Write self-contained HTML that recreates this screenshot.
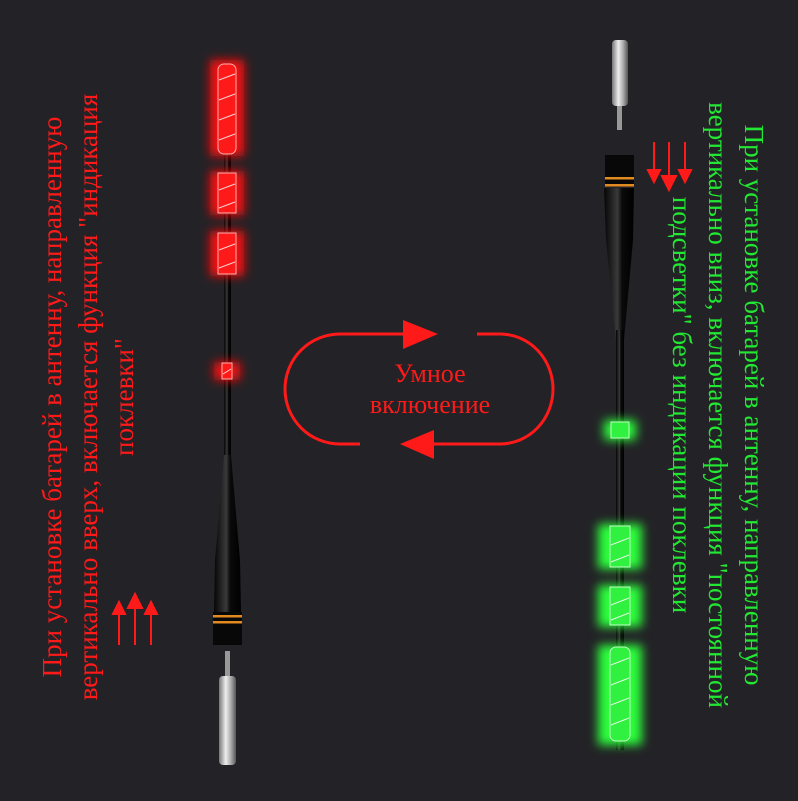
<!DOCTYPE html>
<html><head><meta charset="utf-8"><style>
body{margin:0;background:#232226;width:798px;height:801px;overflow:hidden;position:relative;font-family:"Liberation Serif",serif}
svg{position:absolute;left:0;top:0}
.t{position:absolute;white-space:nowrap;text-align:center;font-size:27px;line-height:36px}
</style></head><body>
<svg width="798" height="801" viewBox="0 0 798 801">
<defs>
<filter id="g" x="-1" y="-0.5" width="3" height="2"><feGaussianBlur stdDeviation="5"/></filter>
<linearGradient id="blk" x1="0" x2="1"><stop offset="0" stop-color="#050505"/><stop offset=".45" stop-color="#3a3a3a"/><stop offset=".6" stop-color="#0a0a0a"/><stop offset="1" stop-color="#000"/></linearGradient>
<linearGradient id="sil" x1="0" x2="1"><stop offset="0" stop-color="#777"/><stop offset=".4" stop-color="#eee"/><stop offset=".7" stop-color="#aaa"/><stop offset="1" stop-color="#555"/></linearGradient>
</defs>
<!-- LEFT FLOAT -->
<rect x="224" y="150" width="7" height="320" fill="url(#blk)"/>
<path d="M224 455 L231 455 L240 560 L241 612 L214 612 L215 560 Z" fill="url(#blk)"/>
<rect x="213" y="612" width="29" height="33" fill="#080808"/>
<rect x="213" y="615" width="29" height="2.5" fill="#e08a20"/>
<rect x="213" y="621" width="29" height="2.5" fill="#e08a20"/>
<rect x="225" y="651" width="5" height="25" fill="#999"/>
<rect x="219" y="676" width="17" height="89" rx="4" fill="url(#sil)"/>
<g fill="#ff1010" filter="url(#g)">
<rect x="210" y="60" width="34" height="96"/><rect x="210" y="171" width="34" height="44"/><rect x="210" y="231" width="34" height="45"/><rect x="214" y="362" width="26" height="18"/></g>
<g fill="#ff1a1a" stroke="#ffb0b0" stroke-width="1">
<rect x="218" y="64" width="18" height="90" rx="6"/><rect x="218" y="173" width="18" height="40"/><rect x="218" y="233" width="18" height="41"/><rect x="222" y="363" width="10" height="16"/></g>
<g stroke="#ffd0d0" stroke-width="1"><path d="M219 80l16-6M219 100l16-6M219 120l16-6M219 140l16-6M219 190l16-6M219 208l16-6M219 250l16-6M219 268l16-6M223 374l8-5"/></g>
<!-- RIGHT FLOAT -->
<rect x="612" y="40" width="16" height="66" rx="4" fill="url(#sil)"/>
<rect x="617" y="106" width="5" height="24" fill="#999"/>
<rect x="605" y="155" width="29" height="30" fill="#080808"/>
<rect x="605" y="177" width="29" height="2.5" fill="#e08a20"/>
<rect x="605" y="184" width="29" height="2.5" fill="#e08a20"/>
<path d="M604 188 L634 188 L633 240 L624 340 L616 340 L606 240 Z" fill="url(#blk)"/>
<rect x="616" y="330" width="8" height="420" fill="url(#blk)"/>
<g fill="#2bff3a" filter="url(#g)">
<rect x="604" y="420" width="32" height="20"/><rect x="598" y="524" width="44" height="45"/><rect x="598" y="585" width="44" height="42"/><rect x="598" y="645" width="44" height="100"/></g>
<g fill="#30f040" stroke="#c0ffc0" stroke-width="1">
<rect x="611" y="422" width="18" height="16"/><rect x="610" y="526" width="20" height="41"/><rect x="610" y="587" width="20" height="38"/><rect x="610" y="647" width="20" height="94" rx="6"/></g>
<g stroke="#e0ffe0" stroke-width="1"><path d="M611 545l18-7M611 562l18-7M611 605l18-7M611 620l18-7M611 665l18-7M611 685l18-7M611 705l18-7M611 725l18-7"/></g>
<!-- arrows -->
<g stroke="#ff1a1a" stroke-width="2" fill="#ff1a1a">
<line x1="119" y1="645" x2="119" y2="612"/><path d="M113 614l6-12 6 12z"/>
<line x1="135" y1="645" x2="135" y2="605"/><path d="M128 608l7-14 7 14z"/>
<line x1="151" y1="645" x2="151" y2="612"/><path d="M145 614l6-12 6 12z"/>
<line x1="654" y1="142" x2="654" y2="172"/><path d="M648 170l6 12 6-12z"/>
<line x1="669" y1="142" x2="669" y2="178"/><path d="M662 176l7 14 7-14z"/>
<line x1="685" y1="142" x2="685" y2="172"/><path d="M679 170l6 12 6-12z"/>
</g>
<!-- loop -->
<g stroke="#ff1a1a" stroke-width="3" fill="none">
<path d="M405 334 L340 334 A55 55 0 0 0 340 444 L360 444"/>
<path d="M477 334 L500 334 A53 55 0 0 1 500 444 L430 444"/>
</g>
<path d="M403 320 L438 334 L403 349 Z" fill="#ff1a1a"/>
<path d="M434 430 L400 444 L434 459 Z" fill="#ff1a1a"/>
<text x="430" y="382" font-family="Liberation Serif,serif" font-size="26" fill="#ff1a1a" text-anchor="middle">Умное</text>
<text x="430" y="413" font-family="Liberation Serif,serif" font-size="26" fill="#ff1a1a" text-anchor="middle">включение</text>
</svg>
<div class="t" style="color:#ff1a1a;left:88px;top:397px;transform:translate(-50%,-50%) rotate(-90deg)">При установке батарей в антенну, направленную<br>вертикально вверх, включается функция "индикация<br>поклевки"</div>
<div class="t" style="color:#22e833;left:718px;top:405px;transform:translate(-50%,-50%) rotate(90deg)">При установке батарей в антенну, направленную<br>вертикально вниз, включается функция "постоянной<br>подсветки" без индикации поклевки</div>
</body></html>
